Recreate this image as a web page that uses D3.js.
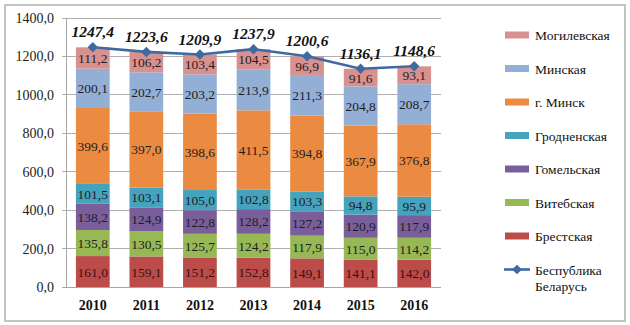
<!DOCTYPE html>
<html><head><meta charset="utf-8">
<script src="https://cdn.jsdelivr.net/npm/d3@7"></script>
<style>body{margin:0;background:#fff}svg{display:block}</style>
</head><body><svg id="c" width="630" height="325"></svg>
<script>
const years = ["2010","2011","2012","2013","2014","2015","2016"];
const seriesNames = ["Брестская","Витебская","Гомельская","Гродненская","г. Минск","Минская","Могилевская"];
const brest = [161.0,159.1,151.2,152.8,149.1,141.1,142.0];
const vitebsk = [135.8,130.5,125.7,124.2,117.9,115.0,114.2];
const gomel = [138.2,124.9,122.8,128.2,127.2,120.9,117.9];
const grodno = [101.5,103.1,105.0,102.8,103.3,94.8,95.9];
const minskCity = [399.6,397.0,398.6,411.5,394.8,367.9,376.8];
const minskReg = [200.1,202.7,203.2,213.9,211.3,204.8,208.7];
const mogilev = [111.2,106.2,103.4,104.5,96.9,91.6,93.1];
const total = [1247.4,1223.6,1209.9,1237.9,1200.6,1136.1,1148.6];
const totalName = ["Беспублика","Беларусь"];
const yTicks = [0,200,400,600,800,1000,1200,1400];

const seriesVals = [brest,vitebsk,gomel,grodno,minskCity,minskReg,mogilev];
const colors = ["#bb4c49","#97b855","#7a5e9c","#45a3bd","#eb8b41","#93afd6","#d9918f"];
const lineColor = "#3f6aa0";
const FF = '"Liberation Serif", "Times New Roman", serif';
const fmt = v => v.toFixed(1).replace(".", ",");

const svg = d3.select("#c").style("font-family", FF);
svg.append("rect").attr("x",5).attr("y",5).attr("width",620).attr("height",316)
  .attr("fill","#fff").attr("stroke","#c4c4c4").attr("stroke-width",2);

const L=66, R=441, T=18, B=287;
const x = d3.scaleBand().domain(years).range([L,R]).paddingInner(0.37).paddingOuter(0.185);
const y = d3.scaleLinear().domain([0,1400]).range([B,T]);

// grid
svg.append("g").selectAll("line").data(yTicks).join("line")
  .attr("x1",L-4).attr("x2",R).attr("y1",d=>y(d)).attr("y2",d=>y(d))
  .attr("stroke",d=>d===0?"#a6a6a6":"#b0b0b0").attr("stroke-width",1).attr("shape-rendering","crispEdges");
svg.append("line").attr("x1",L).attr("x2",L).attr("y1",T).attr("y2",B)
  .attr("stroke","#a6a6a6").attr("shape-rendering","crispEdges");

// y axis labels
const yAxis = d3.axisLeft(y).tickValues(yTicks).tickFormat(fmt).tickSize(0).tickPadding(12);
const ga = svg.append("g").attr("transform",`translate(${L},0)`).call(yAxis);
ga.select(".domain").remove();
ga.attr("font-family", null);
ga.selectAll("text").style("font-family", FF).attr("font-size","14px").attr("fill","#222");

// stacked data
const rows = years.map((yr,i)=>{const o={year:yr}; seriesNames.forEach((s,k)=>o[s]=seriesVals[k][i]); return o;});
const stack = d3.stack().keys(seriesNames)(rows);

const gs = svg.append("g").selectAll("g").data(stack).join("g").attr("fill",(d,i)=>colors[i]);
gs.selectAll("rect").data(d=>d).join("rect")
  .attr("x",d=>x(d.data.year)).attr("width",x.bandwidth())
  .attr("y",d=>y(d[1])).attr("height",d=>y(d[0])-y(d[1]));

svg.append("g").selectAll("g").data(stack).join("g").selectAll("text").data(d=>d.map(v=>({v,key:d.key}))).join("text")
  .attr("x",d=>x(d.v.data.year)+x.bandwidth()/2)
  .attr("y",d=>(y(d.v[0])+y(d.v[1]))/2+5)
  .attr("text-anchor","middle").attr("font-size","13.5px").style("font-family", FF)
  .attr("fill",d=>d.key==="Брестская"?"#3a1010":"#1e1e1e")
  .text(d=>fmt(d.v.data[d.key]));

// line
const cx = (d,i)=>x(years[i])+x.bandwidth()/2;
svg.append("path").datum(total)
  .attr("d",d3.line().x(cx).y(d=>y(d)))
  .attr("fill","none").attr("stroke",lineColor).attr("stroke-width",2.6);
svg.append("g").selectAll("path").data(total).join("path")
  .attr("d",d3.symbol(d3.symbolDiamond2,70))
  .attr("transform",(d,i)=>`translate(${cx(d,i)},${y(d)})`).attr("fill",lineColor);
svg.append("g").selectAll("text").data(total).join("text")
  .attr("x",cx).attr("y",d=>y(d)-10).attr("text-anchor","middle").style("font-family", FF)
  .attr("font-size","15.5px").attr("font-weight","bold").attr("font-style","italic").attr("fill","#111")
  .text(fmt);

// x labels
svg.append("g").selectAll("text").data(years).join("text")
  .attr("x",d=>x(d)+x.bandwidth()/2).attr("y",310).attr("text-anchor","middle").style("font-family", FF)
  .attr("font-size","14px").attr("font-weight","bold").attr("fill","#111").text(d=>d);

// legend
const legOrder = seriesNames.map((s,i)=>({s,c:colors[i]})).reverse();
const lg = svg.append("g");
legOrder.forEach((d,i)=>{
  const cy = 35 + i*33.5;
  lg.append("rect").attr("x",505).attr("y",cy-3.5).attr("width",24).attr("height",7).attr("fill",d.c);
  lg.append("text").attr("x",535).attr("y",cy+5).style("font-family", FF).attr("font-size","13.5px").attr("fill","#111").text(d.s);
});
const ly = 35 + 7*33.5;
lg.append("line").attr("x1",504).attr("x2",530).attr("y1",ly).attr("y2",ly).attr("stroke",lineColor).attr("stroke-width",2.6);
lg.append("path").attr("d",d3.symbol(d3.symbolDiamond2,60)).attr("transform",`translate(517,${ly})`).attr("fill",lineColor);
lg.append("text").attr("x",535).attr("y",ly+5).style("font-family", FF).attr("font-size","13.5px").attr("fill","#111").text(totalName[0]);
lg.append("text").attr("x",535).attr("y",ly+21).style("font-family", FF).attr("font-size","13.5px").attr("fill","#111").text(totalName[1]);
</script></body></html>
